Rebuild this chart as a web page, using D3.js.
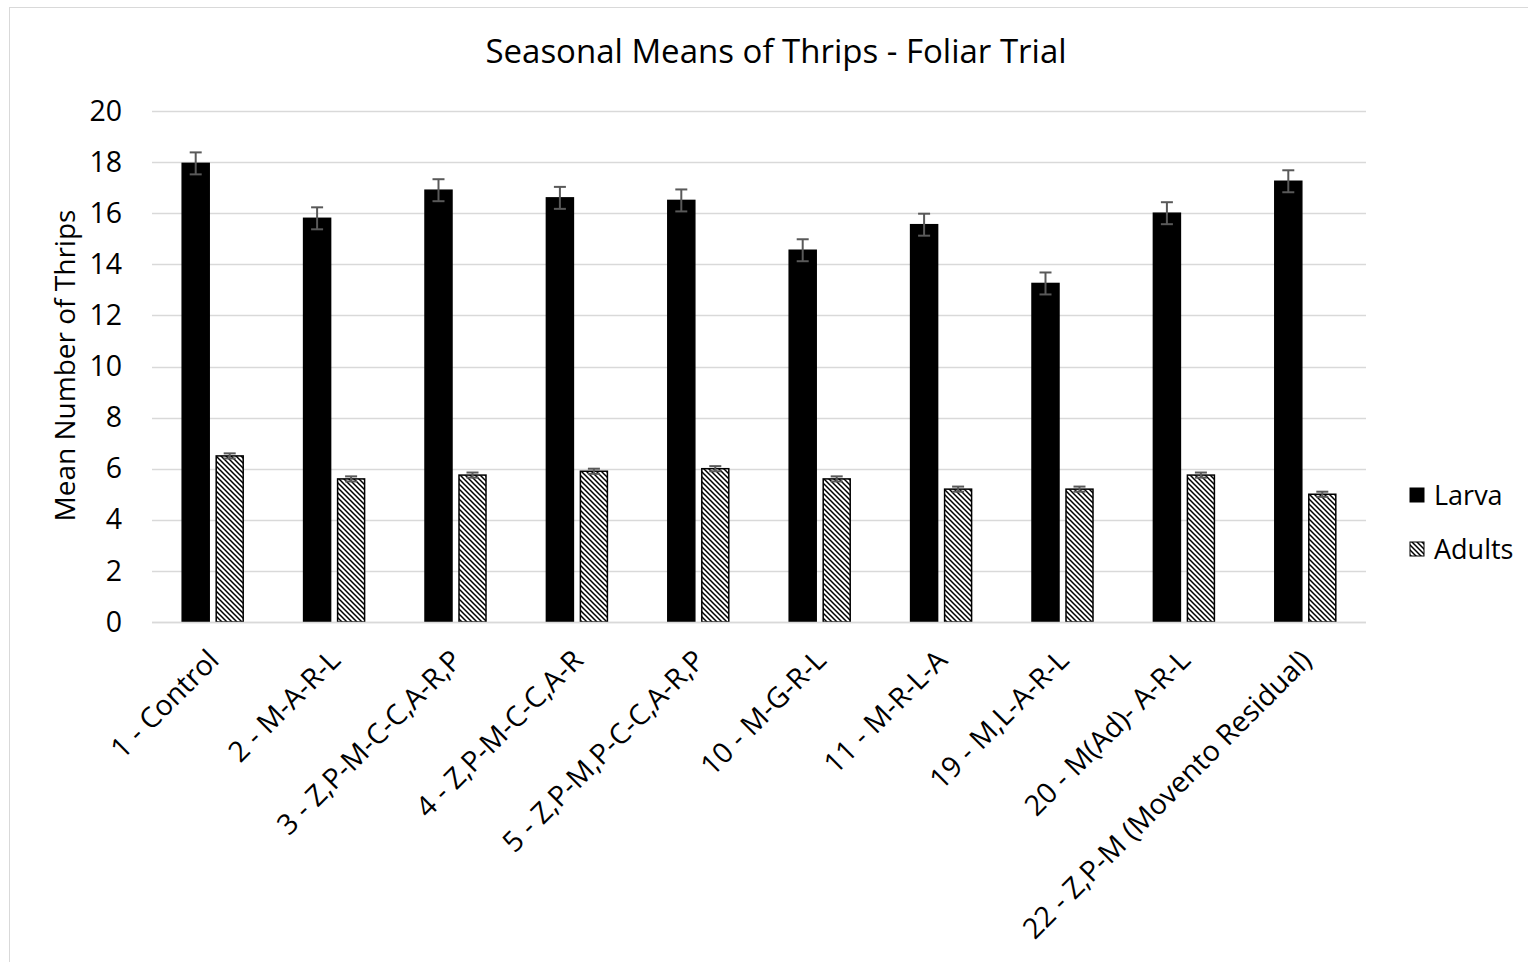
<!DOCTYPE html>
<html>
<head>
<meta charset="utf-8">
<script src="https://cdn.jsdelivr.net/npm/d3@7"></script>
<style>
  body { margin: 0; background: #fff; }
  text { font-family: "Open Sans", "Liberation Sans", sans-serif; fill: #000; }
</style>
</head>
<body>
<svg id="chart" width="1528" height="962"></svg>
<script>
const categories = ['1 - Control', '2 - M-A-R-L', '3 - Z,P-M-C-C,A-R,P', '4 - Z,P-M-C-C,A-R',
  '5 - Z,P-M,P-C-C,A-R,P', '10 - M-G-R-L', '11 - M-R-L-A', '19 - M,L-A-R-L',
  '20 - M(Ad)- A-R-L', '22 - Z,P-M (Movento Residual)'];
const larva = [17.95, 15.8, 16.9, 16.6, 16.5, 14.55, 15.55, 13.25, 16.0, 17.25];
const larvaErr = [0.43, 0.43, 0.43, 0.43, 0.43, 0.43, 0.43, 0.43, 0.43, 0.43];
const adults = [6.5, 5.6, 5.75, 5.9, 6.0, 5.6, 5.2, 5.2, 5.75, 5.0];
const adultsErr = [0.1, 0.1, 0.1, 0.1, 0.1, 0.1, 0.1, 0.1, 0.1, 0.1];
const yTicks = [0, 2, 4, 6, 8, 10, 12, 14, 16, 18, 20];

const svg = d3.select('#chart');
const plotLeft = 152, plotRight = 1366, plotTop = 111, plotBottom = 622;

// outer frame
svg.append('rect').attr('x', 9.5).attr('y', 7.5).attr('width', 1560).attr('height', 1000)
  .attr('fill', 'none').attr('stroke', '#d9d9d9').attr('stroke-width', 1);

// hatch pattern
const defs = svg.append('defs');
const pat = defs.append('pattern').attr('id', 'hatch').attr('patternUnits', 'userSpaceOnUse')
  .attr('width', 5).attr('height', 5);
pat.append('rect').attr('width', 5).attr('height', 5).attr('fill', '#fff');
pat.append('path').attr('d', 'M-1,-1 L6,6 M-1,4 L1,6 M4,-1 L6,1')
  .attr('stroke', '#000').attr('stroke-width', 1.5);

const x = d3.scaleBand().domain(categories).range([plotLeft, plotRight]).paddingInner(0).paddingOuter(0);
const y = d3.scaleLinear().domain([0, 20]).range([plotBottom, plotTop]);

// gridlines
svg.append('g').selectAll('line').data(yTicks).join('line')
  .attr('x1', plotLeft).attr('x2', plotRight)
  .attr('y1', d => Math.round(y(d)) + 0.5).attr('y2', d => Math.round(y(d)) + 0.5)
  .attr('stroke', '#d9d9d9').attr('stroke-width', 1.5);

// y axis labels
const yAxis = d3.axisLeft(y).tickValues(yTicks).tickSize(0).tickPadding(30);
const ya = svg.append('g').attr('transform', `translate(${plotLeft},0)`).call(yAxis);
ya.select('.domain').remove();
ya.selectAll('text').style('font-size', '28.5px').attr('fill', '#000')
  .style('font-family', '"Open Sans", sans-serif');

const barW = 27, gap = 7;
const bw = x.bandwidth();
const series = [
  { vals: larva, err: larvaErr, off: bw / 2 - gap / 2 - barW, fill: '#000', stroke: '#000' },
  { vals: adults, err: adultsErr, off: bw / 2 + gap / 2, fill: 'url(#hatch)', stroke: '#000' }
];

series.forEach(s => {
  const g = svg.append('g');
  g.selectAll('rect').data(s.vals).join('rect')
    .attr('x', (d, i) => x(categories[i]) + s.off)
    .attr('y', d => y(d))
    .attr('width', barW)
    .attr('height', d => y(0) - y(d))
    .attr('fill', s.fill).attr('stroke', s.stroke).attr('stroke-width', 1.5);

  const eg = svg.append('g').attr('stroke', '#595959').attr('stroke-width', 2);
  s.vals.forEach((d, i) => {
    const cx = x(categories[i]) + s.off + barW / 2;
    const e = s.err[i];
    eg.append('line').attr('x1', cx).attr('x2', cx).attr('y1', y(d + e)).attr('y2', y(d - e));
    eg.append('line').attr('x1', cx - 6).attr('x2', cx + 6).attr('y1', y(d + e)).attr('y2', y(d + e));
    eg.append('line').attr('x1', cx - 6).attr('x2', cx + 6).attr('y1', y(d - e)).attr('y2', y(d - e));
  });
});

// baseline
svg.append('line').attr('x1', plotLeft).attr('x2', plotRight).attr('y1', plotBottom + 0.5).attr('y2', plotBottom + 0.5)
  .attr('stroke', '#d9d9d9').attr('stroke-width', 1.5);

// x labels
svg.append('g').selectAll('text').data(categories).join('text')
  .attr('transform', d => `translate(${x(d) + bw / 2 + 8},${plotBottom + 40}) rotate(-45)`)
  .attr('text-anchor', 'end')
  .style('font-size', '28.5px')
  .text(d => d);

// title
svg.append('text').attr('x', 776).attr('y', 63).attr('text-anchor', 'middle')
  .style('font-size', '33px').text('Seasonal Means of Thrips - Foliar Trial');

// y title
svg.append('text').attr('transform', `translate(75,${(plotTop + plotBottom) / 2 - 1}) rotate(-90)`)
  .attr('text-anchor', 'middle').style('font-size', '28px').text('Mean Number of Thrips');

// legend
const legend = [{ name: 'Larva', fill: '#000' }, { name: 'Adults', fill: 'url(#hatch)' }];
const lg = svg.append('g');
legend.forEach((l, i) => {
  const ly = 495 + i * 54;
  lg.append('rect').attr('x', 1410).attr('y', ly - 7).attr('width', 14).attr('height', 14)
    .attr('fill', l.fill).attr('stroke', '#000').attr('stroke-width', 1);
  lg.append('text').attr('x', 1434).attr('y', ly + 10).style('font-size', '27px').text(l.name);
});
</script>
</body>
</html>
